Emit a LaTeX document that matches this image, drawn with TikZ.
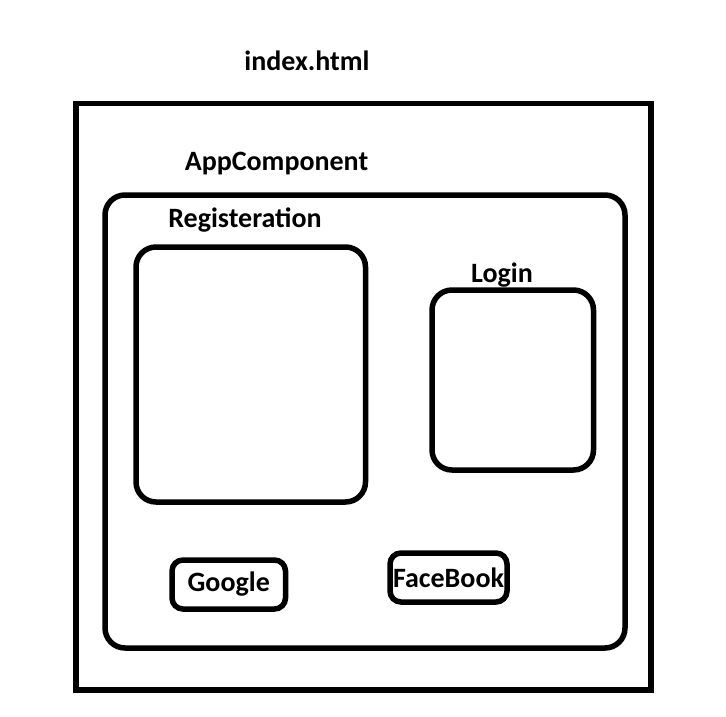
\documentclass[tikz,border=0pt]{standalone}
\usepackage{fontspec}
\setmainfont{Carlito}
\begin{document}
\begin{tikzpicture}[x=1pt,y=-1pt,
  frame/.style={draw=black, line width=5.5pt, inner sep=0pt, outer sep=0pt},
  panel/.style={frame, rounded corners=20pt},
  chip/.style={frame, rounded corners=11pt, font=\bfseries\fontsize{28}{32}\selectfont},
  caption/.style={font=\bfseries\fontsize{28}{32}\selectfont, anchor=base, inner sep=0pt}]
\useasboundingbox (0,0) rectangle (726,716);

% outer page and the root component
\node[frame, minimum width=575pt, minimum height=586.5pt] (page) at (363.5,396.75) {};
\node[panel, minimum width=520pt, minimum height=453pt] (app) at (365,421.5) {};

% child components
\node[panel, minimum width=229.5pt, minimum height=255pt] (reg) at (250.75,374.5) {};
\node[panel, minimum width=161.5pt, minimum height=180pt] (login) at (512.75,380) {};
\node[chip, minimum width=113.5pt, minimum height=49pt] (google) at (228.75,584.5) {Google};
\node[chip, minimum width=117pt, minimum height=49pt] (facebook) at (448.5,577.5) {FaceBook};

% captions
\node[caption] (pagecap) at (307,70) {index.html};
\node[caption] (appcap) at (276.5,170) {AppComponent};
\node[caption] (regcap) at (245,227) {Registeration};
\node[caption] (logincap) at (502,282) {Login};
\end{tikzpicture}
\end{document}
